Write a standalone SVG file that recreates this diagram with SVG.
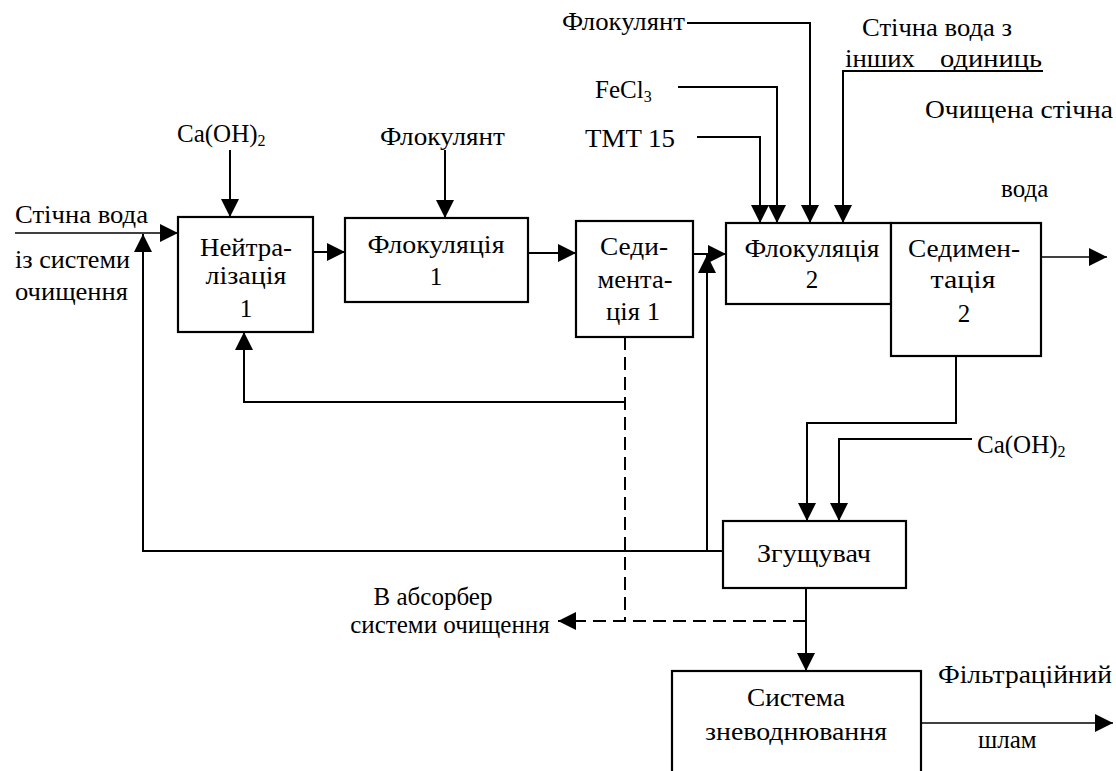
<svg xmlns="http://www.w3.org/2000/svg" width="1116" height="771" viewBox="0 0 1116 771">
<style>
  text { font-family: "Liberation Serif", "DejaVu Serif", serif; font-size: 25px; fill: #000; }
  .c { text-anchor: middle; }
  .box { fill: #fff; stroke: #000; stroke-width: 2.2; }
  .ln { fill: none; stroke: #000; stroke-width: 2; }
  .thin { fill: none; stroke: #000; stroke-width: 1.5; }
  .dash { fill: none; stroke: #000; stroke-width: 2; stroke-dasharray: 13 7; }
</style>
<defs>
  <marker id="ah" markerUnits="userSpaceOnUse" markerWidth="18" markerHeight="18" refX="18" refY="9" orient="auto" viewBox="0 0 18 18">
    <path d="M0,0 L18,9 L0,18 Z" fill="#000"/>
  </marker>
</defs>
<rect width="1116" height="771" fill="#fff"/>

<g id="connectors">
  <path class="thin" d="M15,233 H178" marker-end="url(#ah)"/>
  <path class="ln" d="M230,150 V217" marker-end="url(#ah)"/>
  <path class="ln" d="M313,252 H345" marker-end="url(#ah)"/>
  <path class="ln" d="M445,150 V218" marker-end="url(#ah)"/>
  <path class="ln" d="M528,253 H576" marker-end="url(#ah)"/>
  <path class="ln" d="M693,254 H726" marker-end="url(#ah)"/>
  <path class="ln" d="M625,402 H244 V332" marker-end="url(#ah)"/>
  <path class="ln" d="M723,551 H143 V234" marker-end="url(#ah)"/>
  <path class="ln" d="M707,551 V255" marker-end="url(#ah)"/>
  <path class="ln" d="M697,137 H760 V223" marker-end="url(#ah)"/>
  <path class="ln" d="M678,87 H777 V223" marker-end="url(#ah)"/>
  <path class="ln" d="M687,23 H810 V223" marker-end="url(#ah)"/>
  <path class="ln" d="M1043,71 H843 V223" marker-end="url(#ah)"/>
  <path class="thin" d="M1040,257 H1107" marker-end="url(#ah)"/>
  <path class="ln" d="M956,356 V423 H807 V521" marker-end="url(#ah)"/>
  <path class="ln" d="M972,439 H839 V521" marker-end="url(#ah)"/>
  <path class="ln" d="M806,588 V671" marker-end="url(#ah)"/>
  <path class="dash" d="M625,337 V621"/>
  <path class="dash" d="M806,621 H558" marker-end="url(#ah)"/>
  <path class="thin" d="M921,723 H1113" marker-end="url(#ah)"/>
</g>

<g id="neutralization">
  <rect class="box" x="178" y="217" width="135" height="115"/>
  <text class="c" x="246" y="256" textLength="92" lengthAdjust="spacingAndGlyphs">Нейтра-</text>
  <text class="c" x="246" y="284" textLength="81" lengthAdjust="spacingAndGlyphs">лізація</text>
  <text class="c" x="246" y="317">1</text>
</g>
<g id="flocculation1">
  <rect class="box" x="345" y="218" width="183" height="84"/>
  <text class="c" x="436" y="253" textLength="137" lengthAdjust="spacingAndGlyphs">Флокуляція</text>
  <text class="c" x="436" y="285">1</text>
</g>
<g id="sedimentation1">
  <rect class="box" x="576" y="221" width="117" height="116"/>
  <text class="c" x="634" y="255" textLength="68" lengthAdjust="spacingAndGlyphs">Седи-</text>
  <text class="c" x="635" y="288" textLength="75" lengthAdjust="spacingAndGlyphs">мента-</text>
  <text class="c" x="633" y="320" textLength="54" lengthAdjust="spacingAndGlyphs">ція 1</text>
</g>
<g id="flocculation2">
  <rect class="box" x="726" y="223" width="165" height="81"/>
  <text class="c" x="812" y="257" textLength="135" lengthAdjust="spacingAndGlyphs">Флокуляція</text>
  <text class="c" x="812" y="288">2</text>
</g>
<g id="sedimentation2">
  <rect class="box" x="891" y="223" width="150" height="133"/>
  <text class="c" x="964" y="257" textLength="112" lengthAdjust="spacingAndGlyphs">Седимен-</text>
  <text class="c" x="963" y="288" textLength="65" lengthAdjust="spacingAndGlyphs">тація</text>
  <text class="c" x="964" y="322">2</text>
</g>
<g id="thickener">
  <rect class="box" x="723" y="521" width="183" height="67"/>
  <text class="c" x="814" y="562" textLength="114" lengthAdjust="spacingAndGlyphs">Згущувач</text>
</g>
<g id="dewatering">
  <rect class="box" x="672" y="671" width="249" height="110"/>
  <text class="c" x="796" y="706" textLength="98" lengthAdjust="spacingAndGlyphs">Система</text>
  <text class="c" x="796" y="740" textLength="182" lengthAdjust="spacingAndGlyphs">зневоднювання</text>
</g>

<g id="labels">
  <text x="15" y="223" textLength="133" lengthAdjust="spacingAndGlyphs">Стічна вода</text>
  <text x="15" y="268" textLength="115" lengthAdjust="spacingAndGlyphs">із системи</text>
  <text x="15" y="300" textLength="113" lengthAdjust="spacingAndGlyphs">очищення</text>
  <text x="177" y="142">Ca(OH)<tspan font-size="16" dy="4">2</tspan></text>
  <text x="380" y="145" textLength="125" lengthAdjust="spacingAndGlyphs">Флокулянт</text>
  <text x="562" y="30" textLength="123" lengthAdjust="spacingAndGlyphs">Флокулянт</text>
  <text x="595" y="98">FeCl<tspan font-size="16" dy="4">3</tspan></text>
  <text x="585" y="147" textLength="90" lengthAdjust="spacingAndGlyphs">TMT 15</text>
  <text x="862" y="36" textLength="150" lengthAdjust="spacingAndGlyphs">Стічна вода з</text>
  <text x="845" y="67" textLength="70" lengthAdjust="spacingAndGlyphs">інших</text>
  <text x="940" y="67" textLength="102" lengthAdjust="spacingAndGlyphs">одиниць</text>
  <text x="925" y="118" textLength="188" lengthAdjust="spacingAndGlyphs">Очищена стічна</text>
  <text x="1001" y="197">вода</text>
  <text x="977" y="453">Ca(OH)<tspan font-size="16" dy="4">2</tspan></text>
  <text class="c" x="433" y="605">В абсорбер</text>
  <text class="c" x="450" y="633">системи очищення</text>
  <text x="938" y="683" textLength="174" lengthAdjust="spacingAndGlyphs">Фільтраційний</text>
  <text x="978" y="748">шлам</text>
</g>
</svg>
